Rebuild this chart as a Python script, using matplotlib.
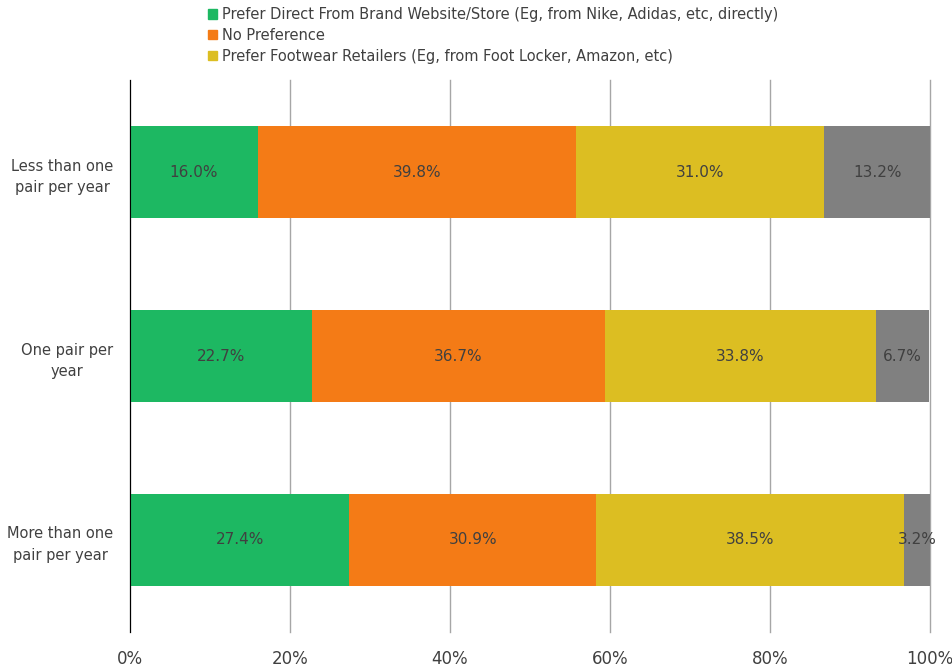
import matplotlib.pyplot as plt
import numpy as np
from matplotlib.patches import Patch
from matplotlib.ticker import PercentFormatter

categories = ['Less than one\npair per year', 'One pair per\nyear', 'More than one\npair per year']
series_names = ['Prefer Direct From Brand Website/Store (Eg, from Nike, Adidas, etc, directly)',
                'No Preference',
                'Prefer Footwear Retailers (Eg, from Foot Locker, Amazon, etc)',
                'Other']
direct = [16.0, 22.7, 27.4]
no_pref = [39.8, 36.7, 30.9]
retailers = [31.0, 33.8, 38.5]
other = [13.2, 6.7, 3.2]
colors = ['#1db862', '#f47b16', '#dcbe22', '#808080']

fig = plt.figure(figsize=(9.53, 6.68), dpi=100)
ax = fig.add_axes([130/953, 1 - 632/668, 800/953, 552/668])

y = np.arange(len(categories))
left = np.zeros(len(categories))
for vals, col in zip([direct, no_pref, retailers, other], colors):
    vals = np.array(vals)
    ax.barh(y, vals, left=left, height=0.5, color=col, zorder=3)
    for yi, l, v in zip(y, left, vals):
        ax.text(l + v / 2, yi, f'{v:.1f}%', ha='center', va='center',
                fontsize=11, color='#404040', zorder=4)
    left += vals

ax.set_xlim(0, 100)
ax.set_ylim(2.5, -0.5)
ax.set_yticks(y)
ax.set_yticklabels(categories, fontsize=10.5, color='#404040',
                   multialignment='center', linespacing=1.55)
ax.set_xticks(np.arange(0, 101, 20))
ax.xaxis.set_major_formatter(PercentFormatter(decimals=0))
ax.tick_params(axis='x', labelsize=12, colors='#404040', length=0, pad=13)
ax.tick_params(axis='y', length=0, pad=12)
ax.grid(axis='x', color='#a6a6a6', linewidth=1, zorder=0)
for gl in ax.get_xgridlines():
    gl.set_clip_on(False)
for s in ['top', 'right', 'bottom']:
    ax.spines[s].set_visible(False)
ax.spines['left'].set_color('#000000')
ax.spines['left'].set_zorder(5)

handles = [Patch(color=c) for c in colors[:3]]
fig.legend(handles, series_names[:3], loc='upper left', bbox_to_anchor=(0.205, 1.009),
           frameon=False, fontsize=10.5, handlelength=0.6, handleheight=0.6,
           handletextpad=0.3, labelspacing=0.4, labelcolor='#404040')

plt.savefig('out.png')
